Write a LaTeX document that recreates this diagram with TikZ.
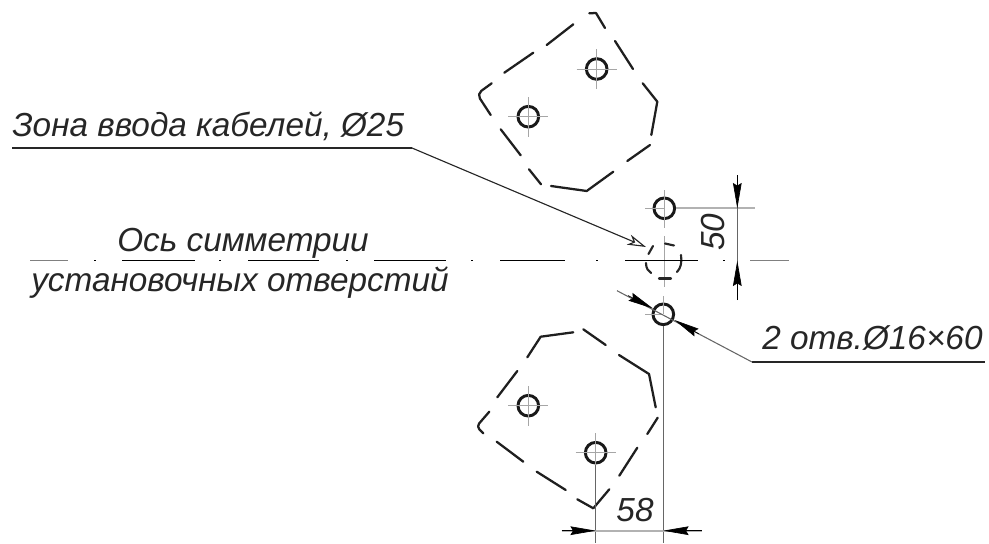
\documentclass[tikz,border=0pt]{standalone}
\usepackage{fontspec}
\setmainfont{Liberation Sans}
\usetikzlibrary{arrows.meta}
\tikzset{
  x=0.75pt,y=-0.75pt,
  zone/.style={line width=1.7pt,black!88,line cap=round,line join=round},
  hole/.style={circle,draw=black!90,line width=2.2pt,minimum size=15.5pt,inner sep=0pt},
  cross/.style={line width=0.6pt,black!35},
  axisline/.style={line width=0.9pt,black},
  axislight/.style={line width=0.8pt,black!50},
  thinline/.style={line width=0.8pt,black!60},
  extline/.style={line width=1.3pt,black!30},
  leader/.style={line width=0.85pt,black!85},
  dimtip/.style={-{Stealth[length=19pt,width=6.5pt,inset=2pt]},line width=0.5pt,black},
  opentip/.style={-{Stealth[length=14pt,width=8pt,inset=4pt,open]},leader},
  cablezone/.style={line width=1.6pt,black!85,line cap=round},
  label/.style={inner sep=0pt,font=\fontsize{25}{25}\selectfont\itshape,text=black!85}
}
\newcommand{\crosshair}[1]{%
  \draw[cross] ([xshift=-15pt]#1.center) -- ([xshift=15pt]#1.center);
  \draw[cross] ([yshift=-15pt]#1.center) -- ([yshift=15pt]#1.center);}
\begin{document}
\begin{tikzpicture}
\useasboundingbox (0,0) rectangle (989,543);
% holes
\node[hole] (h1) at (596.7,69) {};
\node[hole] (h2) at (528.3,116.7) {};
\node[hole] (h3) at (528.3,405.7) {};
\node[hole] (h4) at (595.7,452.7) {};
\node[hole] (h5) at (664.3,208.3) {};
\node[hole] (h6) at (663.3,314.3) {};
\node[inner sep=0pt,minimum size=1pt] (zc) at (664.3,260.7) {};
\crosshair{h1}\crosshair{h2}\crosshair{h3}\crosshair{h4}
\draw[cross] (645,208.3) -- (h5.center) (664.3,190) -- (664.3,228);
\draw[cross] (645,314.3) -- (h6.center) (663.3,296) -- (h6.center);
\draw[cross] (664.3,236) -- (664.3,287);
% upper zone
\draw[zone] (589.3,13.3) -- (596,13) -- (605,28);
\draw[zone] (615,41) -- (633,69);
\draw[zone] (642.7,83.3) -- (657.3,101.7) -- (651.3,135);
\draw[zone] (650,145) -- (627.3,161);
\draw[zone] (613.3,171.7) -- (586.7,191) -- (551,186);
\draw[zone] (541,184.3) -- (529,169.3);
\draw[zone] (520.7,155.3) -- (500.7,129.3);
\draw[zone,rounded corners=4pt] (490.7,115) -- (477,94) -- (491.7,83.3);
\draw[zone] (504.3,72.7) -- (533.3,52.7);
\draw[zone] (546.7,45) -- (573.3,24.3);
% lower zone
\draw[zone] (527.3,357.3) -- (540.7,336.7) -- (573.3,332.3);
\draw[zone] (583.3,329.3) -- (605.7,345);
\draw[zone] (619,355) -- (649,374) -- (655.7,407.3);
\draw[zone] (657.7,417.7) -- (647.3,434);
\draw[zone] (637.3,447.7) -- (619.3,475.7);
\draw[zone] (609.3,489.3) -- (593.3,508.3) -- (577.3,499.3);
\draw[zone] (565.7,490) -- (536.7,471.7);
\draw[zone] (523.3,461.7) -- (496.7,441.7);
\draw[zone,rounded corners=3pt] (483.3,433.3) -- (476.5,426.5) -- (489.3,411.7);
\draw[zone] (497.3,397.3) -- (517.3,371);
% dashed cable zone
\draw[cablezone] (648.5,254) -- (653,246);
\draw[cablezone] (665,243.5) -- (674,245.5);
\draw[cablezone] (681,255) .. controls (682,262) and (681,268) .. (677,272);
\draw[cablezone] (646,263) .. controls (646,268) and (648,271) .. (651,273);
\draw[cablezone] (659,278.5) -- (671,278.5);
% axis
\draw[axislight] (30,260.7) -- (68,260.7);
\foreach \a/\b in {94/96,122/195,219/221,248/319,346/348,374/446,471/473,500/565,596/598,625/698,723/725}
  \draw[axisline] (\a,260.7) -- (\b,260.7);
\draw[axislight] (750,260.7) -- (789,260.7);
% dimension 50
\coordinate (d50a) at (737.3,208.3);
\coordinate (d50b) at (737.3,260.7);
\coordinate (d50t) at (737.3,175);
\coordinate (d50u) at (737.3,300);
\draw[extline] (h5.east) -- (755,208.3);
\draw[thinline] (d50t) -- (d50u);
\draw[dimtip] (d50t) -- (d50a);
\draw[dimtip] (d50u) -- (d50b);
\node[label,rotate=90] (t50) at (713,232) {50};
% dimension 58
\coordinate (d58a) at (595.7,530.7);
\coordinate (d58b) at (663.3,530.7);
\coordinate (d58l) at (561.7,530.7);
\coordinate (d58r) at (701.7,530.7);
\coordinate (e58a) at (595.7,543);
\coordinate (e58b) at (663.3,543);
\draw[thinline] (h4.south) -- (e58a);
\draw[thinline] (h6.south) -- (e58b);
\draw[extline] (d58l) -- (d58r);
\draw[dimtip] (d58l) -- (d58a);
\draw[dimtip] (d58r) -- (d58b);
\node[label] (t58) at (635,510) {58};
% two holes leader
\coordinate (dha) at (617,290.7);
\coordinate (dhb) at (752,362);
\coordinate (dhc) at (985,362);
\draw[leader] (dhb) -- (dhc);
\draw[thinline] (dha) -- (dhb);
\coordinate (tp1) at (653,308.5);
\coordinate (tp2) at (674.5,320);
\coordinate (tl1) at (628,295.5);
\coordinate (tl2) at (699,334);
\draw[dimtip] (tl1) -- (tp1);
\draw[dimtip] (tl2) -- (tp2);
\node[label,anchor=base west] (t2) at (762,349) {2 отв.Ø16×60};
% cable zone leader
\coordinate (za) at (12,148);
\coordinate (zb) at (412,148);
\coordinate (zt) at (646,247);
\draw[leader] (za) -- (zb);
\draw[opentip] (zb) -- (zt);
\node[label,anchor=base west] (t1) at (12,136) {Зона ввода кабелей, Ø25};
% axis labels
\node[label,anchor=base] (t3) at (243,251) {Ось симметрии};
\node[label,anchor=base] (t4) at (240,291) {установочных отверстий};
\end{tikzpicture}
\end{document}
